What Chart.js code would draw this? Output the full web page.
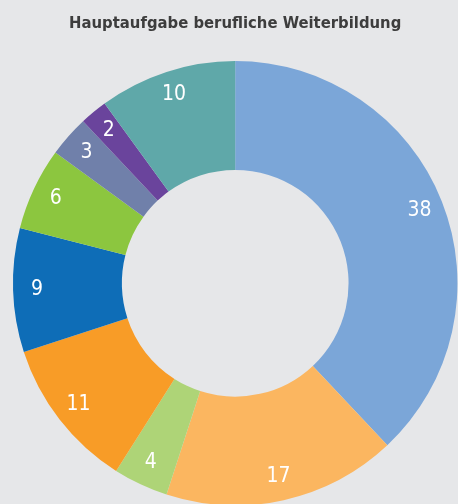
<!DOCTYPE html>
<html>
<head>
<meta charset="utf-8">
<script src="https://cdn.jsdelivr.net/npm/chart.js@4"></script>
<style>
  html, body { margin: 0; padding: 0; background: #e6e7e9; overflow: hidden; }
  #wrap { position: absolute; left: 0; top: 0; }
</style>
</head>
<body>
<div id="wrap"><canvas id="chart" width="470" height="520"></canvas></div>
<script>
var labels_init = ["A", "B", "C", "D", "E", "F", "G", "H", "I"];
var values_init = [38, 17, 4, 11, 9, 6, 3, 2, 10];
var colors_init = [
    '#7ba6d8',
    '#fbb660',
    '#aed477',
    '#f89c27',
    '#0e6db7',
    '#8cc63f',
    '#7080aa',
    '#6a449c',
    '#5fa8a9'
];

// white numbers inside the ring
const ringLabels = {
    id: 'ringLabels',
    afterDatasetsDraw(chart) {
        const ctx = chart.ctx;
        const meta = chart.getDatasetMeta(0);
        ctx.save();
        ctx.fillStyle = '#ffffff';
        ctx.font = '21px "DejaVu Sans Condensed", sans-serif';
        ctx.textAlign = 'center';
        ctx.textBaseline = 'middle';
        meta.data.forEach(function (arc, i) {
            const p = arc.getProps(['x', 'y', 'startAngle', 'endAngle', 'innerRadius', 'outerRadius'], true);
            const mid = (p.startAngle + p.endAngle) / 2;
            const r = p.innerRadius + 0.78 * (p.outerRadius - p.innerRadius);
            ctx.fillText(String(values_init[i]), p.x + Math.cos(mid) * r, p.y + Math.sin(mid) * r);
        });
        ctx.restore();
    }
};

const data = {
    labels: labels_init,
    datasets: [
        {
            data: values_init,
            backgroundColor: colors_init,
            borderWidth: 0,
            hoverOffset: 0
        }
    ]
};

const config = {
    type: 'doughnut',
    data: data,
    options: {
        responsive: false,
        animation: false,
        cutout: '51%',
        layout: { padding: { left: 12.7, right: 12.3, top: 0, bottom: 14.5 } },
        plugins: {
            legend: { display: false },
            tooltip: { enabled: false },
            title: {
                display: true,
                text: 'Hauptaufgabe berufliche Weiterbildung',
                color: '#3d3d3d',
                font: { family: '"DejaVu Sans Condensed", sans-serif', size: 16.5, weight: 'bold', lineHeight: 1.2 },
                padding: { top: 13.5, bottom: 27.7 }
            }
        }
    },
    plugins: [ringLabels]
};

var myChart = new Chart(document.getElementById('chart'), config);
</script>
</body>
</html>
